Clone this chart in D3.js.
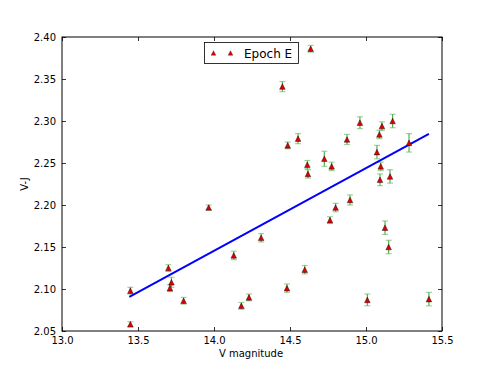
<!DOCTYPE html>
<html>
<head>
    <meta charset="utf-8">
    <script src="https://d3js.org/d3.v7.min.js"></script>
    <style>
        body { margin: 0; background: #fff; }
        text { font-family: "DejaVu Sans", sans-serif; fill: #000; }
    </style>
</head>
<body>
<script>
    // V magnitude, V-J and the error on V-J
    var vmag = [13.45, 13.45, 13.70, 13.71, 13.72, 13.80, 13.965, 14.13, 14.18, 14.23,
                14.31, 14.45, 14.485, 14.48, 14.553, 14.597, 14.614, 14.618, 14.636, 14.726,
                14.763, 14.774, 14.80, 14.875, 14.895, 14.96, 15.009, 15.072, 15.088, 15.105,
                15.097, 15.092, 15.125, 15.149, 15.158, 15.175, 15.283, 15.414];
    var vj   = [2.058, 2.098, 2.125, 2.101, 2.108, 2.086, 2.197, 2.140, 2.080, 2.090,
                2.161, 2.341, 2.271, 2.101, 2.279, 2.123, 2.248, 2.237, 2.386, 2.255,
                2.182, 2.246, 2.197, 2.278, 2.206, 2.298, 2.087, 2.263, 2.284, 2.294,
                2.246, 2.230, 2.173, 2.150, 2.234, 2.300, 2.274, 2.088];
    var err  = [0.003, 0.004, 0.004, 0.004, 0.006, 0.004, 0.003, 0.005, 0.004, 0.004,
                0.005, 0.006, 0.004, 0.005, 0.006, 0.005, 0.005, 0.005, 0.004, 0.009,
                0.004, 0.005, 0.005, 0.006, 0.006, 0.007, 0.007, 0.008, 0.005, 0.005,
                0.005, 0.007, 0.008, 0.008, 0.008, 0.008, 0.011, 0.008];

    // fitted line, read at its two ends
    var fitX = [13.443, 15.414];
    var fitY = [2.0907, 2.2848];

    var xTicks = [13.0, 13.5, 14.0, 14.5, 15.0, 15.5];
    var yTicks = [2.05, 2.10, 2.15, 2.20, 2.25, 2.30, 2.35, 2.40];

    var margin = {top: 37, left: 62},
        width = 380,
        height = 294;

    var x = d3.scaleLinear().domain([13.0, 15.5]).range([0, width]);
    var y = d3.scaleLinear().domain([2.05, 2.40]).range([height, 0]);

    var svg = d3.select("body").append("svg")
                .attr("width", 491)
                .attr("height", 368)
              .append("g")
                .attr("transform", "translate(" + margin.left + "," + margin.top + ")");

    // Osie: ticks inside, on all four sides
    function styleAxis(g) {
        g.select(".domain").remove();
        g.selectAll("line").attr("stroke", "#000").attr("stroke-width", 0.8);
        g.selectAll("text").style("font-size", "10px");
    }
    svg.append("g")
        .attr("transform", "translate(0," + height + ")")
        .call(d3.axisBottom(x).tickValues(xTicks).tickFormat(d3.format(".1f")).tickSizeInner(-4).tickPadding(6))
        .call(styleAxis);
    svg.append("g")
        .call(d3.axisTop(x).tickValues(xTicks).tickFormat("").tickSizeInner(-4))
        .call(styleAxis);
    svg.append("g")
        .call(d3.axisLeft(y).tickValues(yTicks).tickFormat(d3.format(".2f")).tickSizeInner(-4).tickPadding(6))
        .call(styleAxis);
    svg.append("g")
        .attr("transform", "translate(" + width + ",0)")
        .call(d3.axisRight(y).tickValues(yTicks).tickFormat("").tickSizeInner(-4))
        .call(styleAxis);

    svg.append("rect")
        .attr("width", width)
        .attr("height", height)
        .attr("fill", "none")
        .attr("stroke", "#000")
        .attr("stroke-width", 1);

    var data = vmag.map(function(d, i) { return {v: d, c: vj[i], e: err[i]}; });

    // Error bars
    var eb = svg.selectAll(".eb").data(data).enter().append("g").attr("class", "eb");
    eb.append("line")
        .attr("x1", function(d) { return x(d.v); })
        .attr("x2", function(d) { return x(d.v); })
        .attr("y1", function(d) { return y(d.c - d.e); })
        .attr("y2", function(d) { return y(d.c + d.e); })
        .attr("stroke", "#1f8f1f")
        .attr("stroke-opacity", 0.75)
        .attr("stroke-width", 1.2);
    [-1, 1].forEach(function(s) {
        eb.append("line")
            .attr("x1", function(d) { return x(d.v) - 3; })
            .attr("x2", function(d) { return x(d.v) + 3; })
            .attr("y1", function(d) { return y(d.c + s * d.e); })
            .attr("y2", function(d) { return y(d.c + s * d.e); })
            .attr("stroke", "#5cb85c")
            .attr("stroke-opacity", 0.6)
            .attr("stroke-width", 1.2);
    });

    // Fit line
    svg.append("line")
        .attr("x1", x(fitX[0])).attr("y1", y(fitY[0]))
        .attr("x2", x(fitX[1])).attr("y2", y(fitY[1]))
        .attr("stroke", "#0000ff")
        .attr("stroke-width", 2);

    function tri(s) {
        return "M0," + (-s) + "L" + s + "," + s + "L" + (-s) + "," + s + "Z";
    }

    svg.selectAll(".pt").data(data).enter().append("path")
        .attr("class", "pt")
        .attr("d", tri(2.8))
        .attr("transform", function(d) { return "translate(" + x(d.v) + "," + y(d.c) + ")"; })
        .attr("fill", "#e00000")
        .attr("stroke", "#000")
        .attr("stroke-width", 0.4);

    // Legenda
    var lg = svg.append("g").attr("transform", "translate(" + (204.5 - margin.left) + "," + (42.5 - margin.top) + ")");
    lg.append("rect")
        .attr("width", 94)
        .attr("height", 21)
        .attr("fill", "#fff")
        .attr("stroke", "#000")
        .attr("stroke-width", 0.8);
    [9, 26].forEach(function(px) {
        lg.append("path")
            .attr("d", tri(2.3))
            .attr("transform", "translate(" + px + ",10.5)")
            .attr("fill", "#e00000")
            .attr("stroke", "#000")
            .attr("stroke-width", 0.3);
    });
    lg.append("text")
        .attr("x", 39.5)
        .attr("y", 15)
        .style("font-size", "12px")
        .text("Epoch E");

    // Axis titles
    svg.append("text")
        .attr("x", width / 2 - 1)
        .attr("y", height + 26)
        .attr("text-anchor", "middle")
        .style("font-size", "10px")
        .text("V magnitude");
    svg.append("text")
        .attr("transform", "translate(-34," + (height / 2) + ") rotate(-90)")
        .attr("text-anchor", "middle")
        .style("font-size", "10px")
        .text("V-J");
</script>
</body>
</html>
